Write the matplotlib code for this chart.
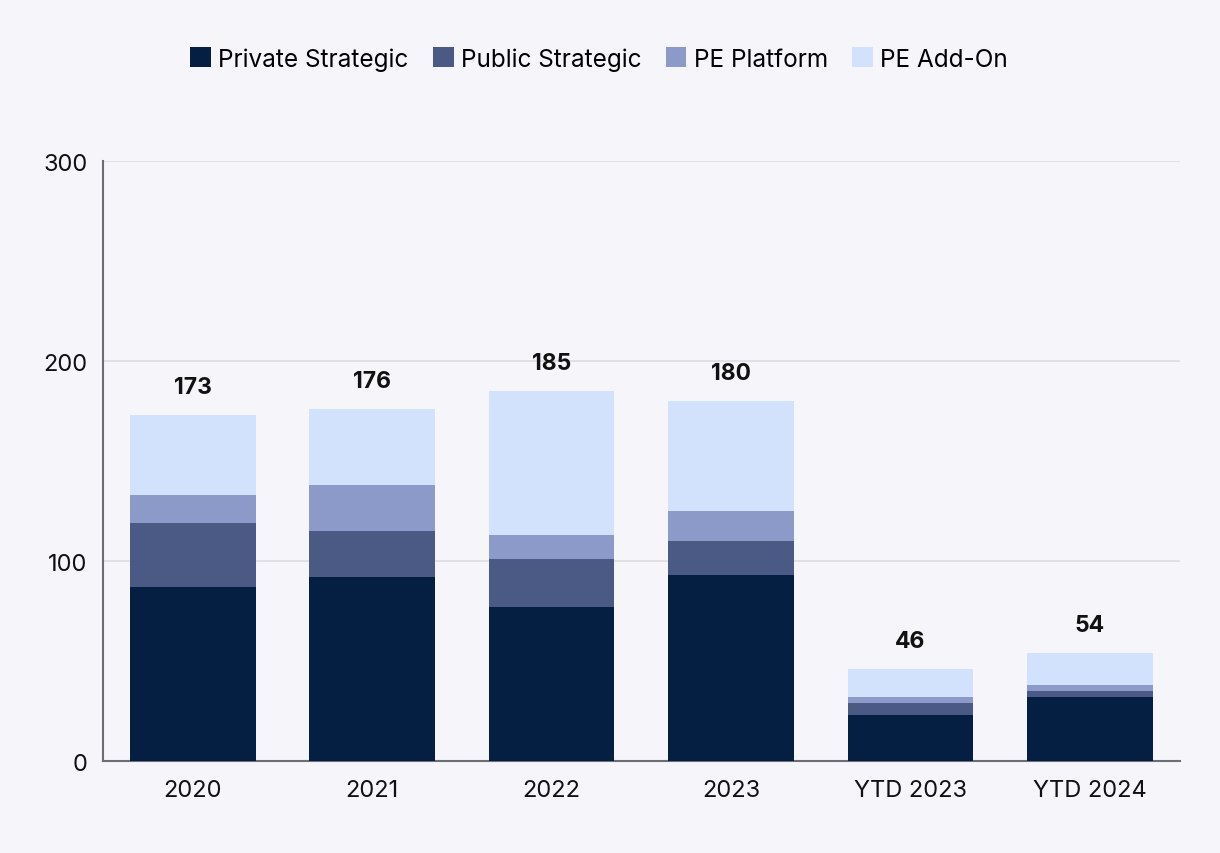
import numpy as np
import matplotlib.pyplot as plt
from matplotlib.patches import Patch

plt.rcParams['font.family'] = ['Inter', 'DejaVu Sans']

categories = ['2020', '2021', '2022', '2023', 'YTD 2023', 'YTD 2024']
private_strategic = [87, 92, 77, 93, 23, 32]
public_strategic = [32, 23, 24, 17, 6, 3]
pe_platform = [14, 23, 12, 15, 3, 3]
pe_addon = [40, 38, 72, 55, 14, 16]
totals = [173, 176, 185, 180, 46, 54]

series = [
    ('Private Strategic', private_strategic, '#051f42'),
    ('Public Strategic', public_strategic, '#4a5a84'),
    ('PE Platform', pe_platform, '#8b9ac8'),
    ('PE Add-On', pe_addon, '#d3e2fc'),
]

bg = '#f5f5fa'
fig = plt.figure(figsize=(12.2, 8.54), dpi=100, facecolor=bg)
ax = fig.add_axes([0.0844, 0.1077, 0.8826, 0.7026], facecolor=bg)

x = np.arange(len(categories))
bottom = np.zeros(len(categories))
handles = []
for name, vals, col in series:
    ax.bar(x, vals, width=0.7, bottom=bottom, color=col, zorder=3)
    bottom += np.array(vals)
    handles.append(Patch(facecolor=col, label=name))

for xi, t in zip(x, totals):
    ax.annotate(str(t), (xi, t), xytext=(0, 12), textcoords='offset points',
                ha='center', va='bottom', fontsize=16.5, fontweight='bold', color='#111111')

ax.set_xlim(-0.5, 5.5)
ax.set_ylim(0, 300)
ax.set_yticks([0, 100, 200, 300])
ax.set_xticks(x)
ax.set_xticklabels(categories)
ax.tick_params(axis='both', length=0, labelsize=17, colors='#111111')
ax.tick_params(axis='x', pad=13)
ax.tick_params(axis='y', pad=11)
ax.yaxis.grid(True, color='#dcdce2', linewidth=1.2, zorder=0)
for s in ['top', 'right']:
    ax.spines[s].set_visible(False)
for s in ['left', 'bottom']:
    ax.spines[s].set_color('#6b6e75')
    ax.spines[s].set_linewidth(1.5)

fig.legend(handles=handles, loc='center', bbox_to_anchor=(0.491, 0.93), ncol=4,
           frameon=False, fontsize=17.5, handlelength=0.85, handleheight=0.85,
           handletextpad=0.3, columnspacing=1.0)

fig.savefig('out.png', dpi=100, facecolor=bg)
